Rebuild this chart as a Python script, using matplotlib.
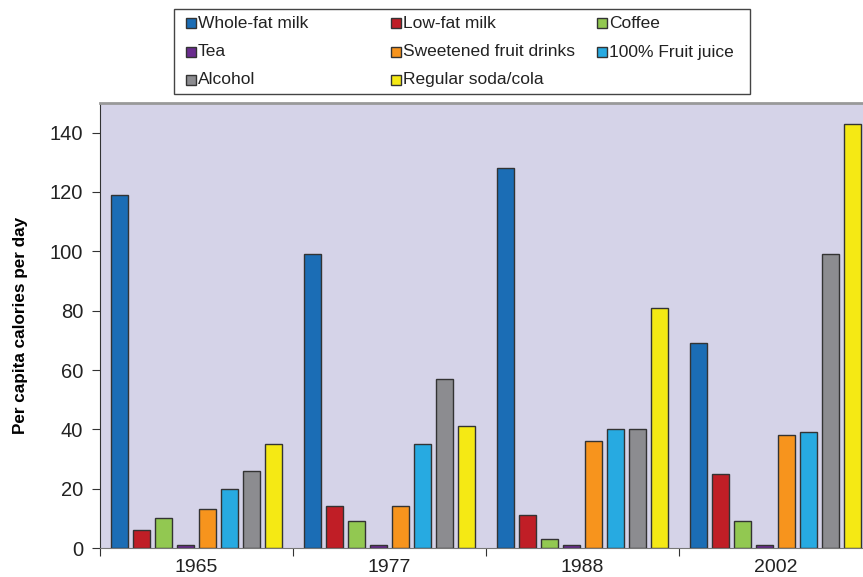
import matplotlib.pyplot as plt
from matplotlib.patches import Rectangle
import numpy as np

plt.rcParams['font.family'] = ['Liberation Sans', 'DejaVu Sans']

# Data
years = ["1965", "1977", "1988", "2002"]
drinks = ["Whole-fat milk", "Low-fat milk", "Coffee", "Tea",
          "Sweetened fruit drinks", "100% Fruit juice", "Alcohol",
          "Regular soda/cola"]
whole_milk = [119, 99, 128, 69]
lowfat_milk = [6, 14, 11, 25]
coffee = [10, 9, 3, 9]
tea = [1, 1, 1, 1]
fruit_drinks = [13, 14, 36, 38]
fruit_juice = [20, 35, 40, 39]
alcohol = [26, 57, 40, 99]
soda = [35, 41, 81, 143]

series = [whole_milk, lowfat_milk, coffee, tea, fruit_drinks, fruit_juice, alcohol, soda]
colors = ["#1B6DB5", "#C01E26", "#92C851", "#6A2C8E",
          "#F7941D", "#27AAE1", "#8C8C90", "#F5E914"]

W, H = 863, 577
fig = plt.figure(figsize=(W / 100, H / 100), dpi=100)
ax = fig.add_axes([100/W, 29/H, 772/W, 445/H])
ax.set_facecolor("#D5D3E8")

x = np.arange(len(years))
pitch = 0.114
width = 0.09
for i, vals in enumerate(series):
    ax.bar(x + (i - 3.5) * pitch, vals, width, color=colors[i],
           edgecolor="#333333", linewidth=1.0, zorder=3)

ax.set_xlim(-0.5, 3.5)
ax.set_ylim(0, 150)
ax.set_yticks(range(0, 141, 20))
ax.set_xticks([-0.5, 0.5, 1.5, 2.5, 3.5])
ax.set_xticklabels([])
ax.set_xticks(x, minor=True)
ax.set_xticklabels(years, minor=True)
ax.tick_params(axis='x', which='major', length=6, direction='out', color="#333333")
ax.tick_params(axis='x', which='minor', length=0, pad=8, labelsize=14, labelcolor="#222222")
ax.tick_params(axis='y', length=6, direction='out', labelsize=14.5, color="#333333",
               labelcolor="#222222", pad=6)

ax.spines['right'].set_visible(False)
ax.spines['top'].set_color("#999999")
ax.spines['top'].set_linewidth(2)
ax.spines['bottom'].set_color("#777777")
ax.spines['left'].set_color("#333333")

ax.set_ylabel("Per capita calories per day", fontsize=12.3, fontweight='bold')
ax.yaxis.set_label_coords(-0.093, 0.5)

# legend drawn by hand to keep the fixed Excel-like column grid
def fx(px):
    return px / W

def fy(py):
    return 1 - py / H

fig.patches.append(Rectangle((fx(173.5), fy(94.5)), fx(749.5) - fx(173.5), fy(9) - fy(94.5),
                             transform=fig.transFigure, facecolor="white",
                             edgecolor="#444444", linewidth=1.0))
col_x = [186, 391, 597]
row_y = [23, 52, 80]
for k, name in enumerate(drinks):
    cx = col_x[k % 3]
    cy = row_y[k // 3]
    fig.patches.append(Rectangle((fx(cx), fy(cy + 5)), fx(10), 10 / H,
                                 transform=fig.transFigure, facecolor=colors[k],
                                 edgecolor="#333333", linewidth=1.0))
    fig.text(fx(cx + 12), fy(cy), name, fontsize=12.5, va='center', ha='left',
             color="#222222")

plt.savefig("out.png", dpi=100)
